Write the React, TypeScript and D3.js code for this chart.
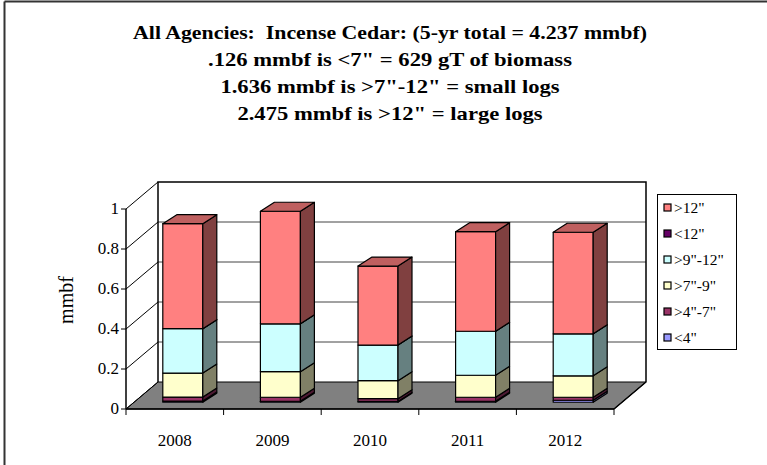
import * as d3 from 'd3'

// data
const years = ['2008', '2009', '2010', '2011', '2012']
const seriesNames = ['<4"', '>4"-7"', '>7"-9"', '>9"-12"', '<12"', '>12"']
const lt4 = [0.006, 0.005, 0.004, 0.005, 0.010]
const g4to7 = [0.020, 0.020, 0.014, 0.020, 0.015]
const g7to9 = [0.120, 0.128, 0.090, 0.110, 0.107]
const g9to12 = [0.222, 0.239, 0.178, 0.220, 0.210]
const lt12 = [0, 0, 0, 0, 0]
const g12 = [0.525, 0.563, 0.395, 0.498, 0.508]
const yTicks = [0, 0.2, 0.4, 0.6, 0.8, 1]
const titleLines = [
  'All Agencies:  Incense Cedar: (5-yr total = 4.237 mmbf)',
  '.126 mmbf is <7" = 629 gT of biomass',
  '1.636 mmbf is >7"-12" = small logs',
  '2.475 mmbf is >12" = large logs',
]

const seriesValues = [lt4, g4to7, g7to9, g9to12, lt12, g12]
const colors = ['#9999FF', '#993366', '#FFFFCC', '#CCFFFF', '#660066', '#FF8080']

const W = 767
const H = 465
const FONT = '"Liberation Serif", "Times New Roman", serif'

// 3d layout
const X0 = 126, X1 = 614
const Y0 = 409, Y1 = 209
const DEPTH = { dx: 32, dy: -27 }
const BAR_W = 40
const BAR_FRONT = 0.25
const BAR_SIDE = { dx: 14, dy: -9 }

const shade = (c: string, k: number) => {
  const r = d3.rgb(c)
  return d3.rgb(r.r * k, r.g * k, r.b * k).formatHex()
}

export default function App() {
  const x = d3.scaleBand<string>().domain(years).range([X0, X1])
  const y = d3.scaleLinear().domain([0, 1]).range([Y0, Y1])

  const bx = (xx: number, d: number) => xx + d * DEPTH.dx
  const by = (yy: number, d: number) => yy + d * DEPTH.dy

  const stacked = d3.stack<number>()
    .keys(seriesNames.map((_, i) => String(i)))
    .value((i, k) => seriesValues[+k][i])(years.map((_, i) => i))

  const backL = bx(X0, 1), backR = bx(X1, 1)
  const pts = (arr: [number, number][]) => arr.map(p => p.join(',')).join(' ')

  const legendItems = [...seriesNames.keys()].reverse()

  return (
    <svg width={W} height={H} style={{ position: 'absolute', left: 0, top: 0, background: '#fff' }} fontFamily={FONT}>
      {/* outer frame */}
      <line x1={4.5} y1={1.5} x2={W} y2={1.5} stroke="#333" strokeWidth={2} />
      <line x1={4.5} y1={1.5} x2={4.5} y2={H} stroke="#333" strokeWidth={2} />

      {/* title */}
      {titleLines.map((t, i) => (
        <text key={i} transform={`translate(390,${39 + i * 27}) scale(${i === 0 ? 1.12 : 1.16},1)`}
          textAnchor="middle" fontSize={19.5} fontWeight="bold" style={{ whiteSpace: 'pre' }}>{t}</text>
      ))}

      {/* floor */}
      <polygon
        points={pts([[X0, Y0], [X1, Y0], [bx(X1, 1), by(Y0, 1)], [bx(X0, 1), by(Y0, 1)]])}
        fill="#808080" stroke="#000" strokeWidth={1}
      />

      {/* back wall gridlines and left wall diagonals */}
      {yTicks.map(t => (
        <g key={t}>
          {t > 0 && t < 1 && (
            <line x1={backL} x2={backR} y1={by(y(t), 1)} y2={by(y(t), 1)} stroke="#444" strokeWidth={1} />
          )}
          <line x1={X0} y1={y(t)} x2={backL} y2={by(y(t), 1)} stroke="#000" strokeWidth={1} />
        </g>
      ))}
      <polyline
        points={pts([[backL, by(Y0, 1)], [backL, by(Y1, 1)], [backR, by(Y1, 1)], [backR, by(Y0, 1)], [X1, Y0]])}
        fill="none" stroke="#000" strokeWidth={1.5}
      />

      {/* bars */}
      {years.map((yr, i) => {
        const left = bx((x(yr) as number) + (x.step() - BAR_W) / 2, BAR_FRONT)
        const right = left + BAR_W
        return (
          <g key={yr} stroke="#000" strokeWidth={1.2} strokeLinejoin="round">
            {stacked.map((s, k) => {
              const [v0, v1] = s[i]
              const yb = by(y(v0), BAR_FRONT)
              const yt = by(y(v1), BAR_FRONT)
              const c = colors[k]
              return (
                <g key={k}>
                  <rect x={left} y={yt} width={BAR_W} height={yb - yt} fill={c} />
                  <polygon
                    points={pts([[right, yb], [right + BAR_SIDE.dx, yb + BAR_SIDE.dy], [right + BAR_SIDE.dx, yt + BAR_SIDE.dy], [right, yt]])}
                    fill={shade(c, 0.5)}
                  />
                </g>
              )
            })}
            {(() => {
              const top = stacked[stacked.length - 1][i][1]
              const yt = by(y(top), BAR_FRONT)
              return (
                <polygon
                  points={pts([[left, yt], [right, yt], [right + BAR_SIDE.dx, yt + BAR_SIDE.dy], [left + BAR_SIDE.dx, yt + BAR_SIDE.dy]])}
                  fill={shade(colors[colors.length - 1], 0.75)}
                />
              )
            })()}
          </g>
        )
      })}

      {/* y axis */}
      <line x1={X0} x2={X0} y1={Y0} y2={Y1} stroke="#000" strokeWidth={1.5} />
      {yTicks.map(t => (
        <g key={t}>
          <line x1={X0 - 5} x2={X0} y1={y(t)} y2={y(t)} stroke="#000" />
          <text x={X0 - 7} y={y(t) + 5} textAnchor="end" fontSize={17}>{t}</text>
        </g>
      ))}
      <text transform={`translate(73,300) rotate(-90)`} textAnchor="middle" fontSize={20}>mmbf</text>

      {/* x axis */}
      <line x1={X0} x2={X1} y1={Y0} y2={Y0} stroke="#000" strokeWidth={1.5} />
      {[...years.map(yr => x(yr) as number), X1].map((v, i) => (
        <line key={i} x1={v} x2={v} y1={Y0} y2={Y0 + 6} stroke="#000" />
      ))}
      {years.map(yr => (
        <text key={yr} x={(x(yr) as number) + x.bandwidth() / 2} y={446} textAnchor="middle" fontSize={17}>{yr}</text>
      ))}

      {/* legend */}
      <rect x={657.5} y={194.5} width={79} height={155} fill="#fff" stroke="#000" />
      {legendItems.map((k, j) => (
        <g key={k} transform={`translate(664,${208 + j * 26})`}>
          <rect x={0} y={-4} width={7} height={7} fill={colors[k]} stroke="#000" strokeWidth={1.2} />
          <text x={10} y={5} fontSize={15.5}>{seriesNames[k]}</text>
        </g>
      ))}
    </svg>
  )
}
